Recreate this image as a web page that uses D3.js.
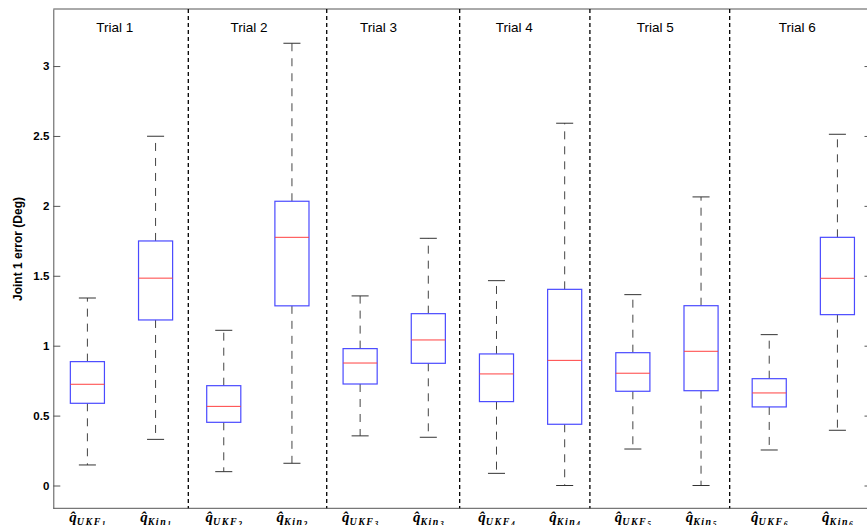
<!DOCTYPE html>
<html>
<head>
<meta charset="utf-8">
<script src="https://cdn.jsdelivr.net/npm/d3@7"></script>
<style>
  body { margin: 0; background: #fff; }
  svg { display: block; }
</style>
</head>
<body>
<div id="chart"></div>
<script>
// box plot data (Deg)
var methods = ["UKF", "Kin"];
var trials = ["Trial 1", "Trial 2", "Trial 3", "Trial 4", "Trial 5", "Trial 6"];
var trialTitleX = [1.4, 3.37, 5.27, 7.26, 9.33, 11.41];
var dividerX = [2.48, 4.51, 6.46, 8.37, 10.42];

var lowerWhisker = [0.147, 0.330, 0.099, 0.159, 0.355, 0.345, 0.087, 0.0, 0.261, 0.0, 0.254, 0.395];
var q1 = [0.588, 1.184, 0.452, 1.285, 0.726, 0.874, 0.600, 0.438, 0.674, 0.678, 0.562, 1.222];
var median = [0.724, 1.483, 0.566, 1.775, 0.876, 1.041, 0.798, 0.895, 0.803, 0.960, 0.662, 1.482];
var q3 = [0.886, 1.749, 0.714, 2.033, 0.979, 1.229, 0.941, 1.403, 0.950, 1.286, 0.764, 1.775];
var upperWhisker = [1.341, 2.498, 1.110, 3.163, 1.356, 1.768, 1.465, 2.591, 1.365, 2.064, 1.079, 2.512];
var yTicks = [0, 0.5, 1, 1.5, 2, 2.5, 3];

var width = 867, height = 525;
var plotLeft = 53.3, plotRight = 871.5, plotTop = 9, plotBottom = 508.3;

var svg = d3.select("#chart").append("svg")
  .attr("width", width)
  .attr("height", height);

// one entry per box
var boxes = [];
trials.forEach(function(t, ti) {
  methods.forEach(function(m, mi) {
    var i = ti * 2 + mi;
    boxes.push({
      pos: i + 1,
      method: m,
      trial: ti + 1,
      lo: lowerWhisker[i], q1: q1[i], med: median[i], q3: q3[i], hi: upperWhisker[i]
    });
  });
});

var x = d3.scaleLinear().domain([0.5, 12.5]).range([plotLeft, plotRight]);
var y = d3.scaleLinear().domain([-0.163, 3.408]).range([plotBottom, plotTop]);

// frame
svg.append("line").attr("x1", plotLeft).attr("x2", plotRight).attr("y1", plotTop).attr("y2", plotTop)
  .attr("stroke", "#555").attr("stroke-width", 1);
svg.append("line").attr("x1", plotLeft).attr("x2", plotRight).attr("y1", plotBottom).attr("y2", plotBottom)
  .attr("stroke", "#555").attr("stroke-width", 1);

var yAxis = d3.axisLeft(y).tickValues(yTicks).tickSizeInner(-7).tickSizeOuter(0)
  .tickPadding(4).tickFormat(d3.format(""));
var gy = svg.append("g").attr("transform", "translate(" + plotLeft + ",0)").call(yAxis);
gy.select(".domain").attr("stroke", "#555");
gy.selectAll(".tick line").attr("stroke", "#555");
gy.selectAll(".tick text")
  .attr("font-family", "'Liberation Sans', Arial, sans-serif")
  .attr("font-size", "11.5px")
  .attr("font-weight", "bold")
  .attr("fill", "#000");

var yAxisR = d3.axisRight(y).tickValues(yTicks).tickSizeInner(-7).tickSizeOuter(0).tickFormat("");
var gyr = svg.append("g").attr("transform", "translate(" + plotRight + ",0)").call(yAxisR);
gyr.select(".domain").attr("stroke", "#555");
gyr.selectAll(".tick line").attr("stroke", "#555");

// trial dividers
svg.selectAll(".divider").data(dividerX).enter().append("line")
  .attr("class", "divider")
  .attr("x1", d => x(d)).attr("x2", d => x(d))
  .attr("y1", plotTop).attr("y2", plotBottom)
  .attr("stroke", "#000").attr("stroke-width", 1.3)
  .attr("stroke-dasharray", "4,3");

// trial titles
svg.selectAll(".trial").data(trials).enter().append("text")
  .attr("class", "trial")
  .attr("x", (d, i) => x(trialTitleX[i]))
  .attr("y", 32)
  .attr("text-anchor", "middle")
  .attr("font-family", "'Liberation Sans', Arial, sans-serif")
  .attr("font-size", "13.5px")
  .attr("fill", "#000")
  .text(d => d);

var bw = 0.25, cw = 0.125;
var g = svg.selectAll(".box").data(boxes).enter().append("g").attr("class", "box");

// whiskers
g.append("line")
  .attr("x1", d => x(d.pos)).attr("x2", d => x(d.pos))
  .attr("y1", d => y(d.q3)).attr("y2", d => y(d.hi))
  .attr("stroke", "#444").attr("stroke-dasharray", "8,7");
g.append("line")
  .attr("x1", d => x(d.pos)).attr("x2", d => x(d.pos))
  .attr("y1", d => y(d.q1)).attr("y2", d => y(d.lo))
  .attr("stroke", "#444").attr("stroke-dasharray", "8,7");
// caps
g.append("line")
  .attr("x1", d => x(d.pos - cw)).attr("x2", d => x(d.pos + cw))
  .attr("y1", d => y(d.hi)).attr("y2", d => y(d.hi))
  .attr("stroke", "#333");
g.append("line")
  .attr("x1", d => x(d.pos - cw)).attr("x2", d => x(d.pos + cw))
  .attr("y1", d => y(d.lo)).attr("y2", d => y(d.lo))
  .attr("stroke", "#333");
// box
g.append("rect")
  .attr("x", d => x(d.pos - bw))
  .attr("y", d => y(d.q3))
  .attr("width", d => x(d.pos + bw) - x(d.pos - bw))
  .attr("height", d => y(d.q1) - y(d.q3))
  .attr("fill", "none")
  .attr("stroke", "#4a4aff").attr("stroke-width", 1.2);
// median
g.append("line")
  .attr("x1", d => x(d.pos - bw)).attr("x2", d => x(d.pos + bw))
  .attr("y1", d => y(d.med)).attr("y2", d => y(d.med))
  .attr("stroke", "#ff4040").attr("stroke-width", 1);

// x labels: q-hat with subscript
var lab = svg.selectAll(".xlab").data(boxes).enter().append("text")
  .attr("class", "xlab")
  .attr("x", d => x(d.pos))
  .attr("y", 522)
  .attr("text-anchor", "middle")
  .attr("font-family", "'Liberation Serif', 'DejaVu Serif', serif")
  .attr("font-style", "italic")
  .attr("font-weight", "bold")
  .attr("fill", "#000");
lab.append("tspan").attr("font-size", "15px").text("q\u0302");
lab.append("tspan").attr("font-size", "10px").attr("dy", 3).attr("letter-spacing", 1.5)
  .text(d => d.method === "UKF" ? "UKF" : "Kin");
lab.append("tspan").attr("font-size", "7.5px").attr("dy", 2).text(d => d.trial);

// y label
svg.append("text")
  .attr("transform", "translate(22," + 249 + ") rotate(-90)")
  .attr("text-anchor", "middle")
  .attr("font-family", "'Liberation Sans', Arial, sans-serif")
  .attr("font-size", "12px")
  .attr("font-weight", "bold")
  .attr("fill", "#000")
  .text("Joint 1 error (Deg)");
</script>
</body>
</html>
